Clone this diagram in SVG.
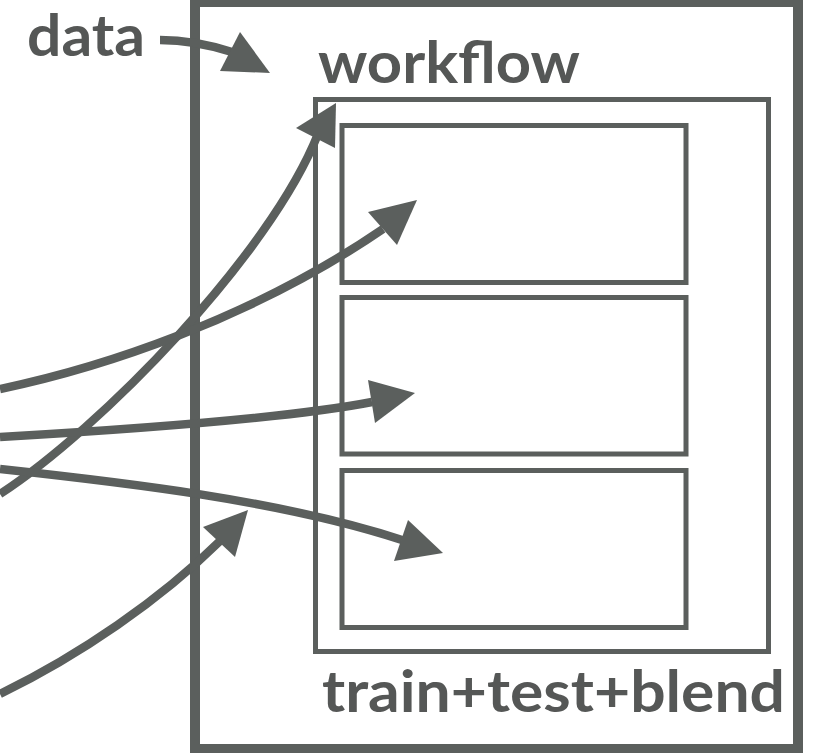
<svg xmlns="http://www.w3.org/2000/svg" width="817" height="753" viewBox="0 0 817 753">
<style>
.box{fill:none;stroke:#5b5f5d}
.outer{stroke-width:10}
.inner{stroke-width:5}
.lbl{font-family:Lato,"Liberation Sans",sans-serif;font-weight:700;font-size:58px;fill:#555756}
.wire{fill:none;stroke:#5b5f5d;stroke-width:8.5}
.head{fill:#5b5f5d}
</style>
<rect width="817" height="753" fill="#ffffff"/>
<g id="workflow">
<rect class="box outer" x="195" y="2" width="603" height="747"/>
<text class="lbl" x="318" y="83" textLength="262" lengthAdjust="spacingAndGlyphs">workflow</text>
</g>
<g id="train-test-blend">
<rect class="box inner" x="315.5" y="99.5" width="453" height="552"/>
<text class="lbl" x="322" y="712" textLength="463" lengthAdjust="spacingAndGlyphs">train+test+blend</text>
</g>
<g id="box1"><rect class="box inner" x="342" y="125.5" width="344" height="157"/></g>
<g id="box2"><rect class="box inner" x="342" y="297.5" width="344" height="156.5"/></g>
<g id="box3"><rect class="box inner" x="342" y="470.5" width="344" height="157"/></g>
<g id="data"><text class="lbl" x="27" y="56" style="font-size:57px" textLength="118" lengthAdjust="spacingAndGlyphs">data</text></g>
<g id="connectors">
<path class="wire" d="M160,40 C185,40 210,45 232,52"/>
<polygon class="head" points="240,32 270,73 220,71"/>
<path class="wire" d="M0,494 C100,429 270,255 318,134"/>
<polygon class="head" points="336,103 296,128 335,148"/>
<path class="wire" d="M0,389 C100,368 250,320 383,229"/>
<polygon class="head" points="417,200 368,212 397,245"/>
<path class="wire" d="M0,437 C120,430 290,418 372,402"/>
<polygon class="head" points="415,393 368,380 375,423"/>
<path class="wire" d="M0,469 C120,482 280,500 402,540"/>
<polygon class="head" points="443,553 408,520 394,561"/>
<path class="wire" d="M0,694 C80,655 160,600 220,541"/>
<polygon class="head" points="248,510 203,527 235,557"/>
</g>
</svg>
